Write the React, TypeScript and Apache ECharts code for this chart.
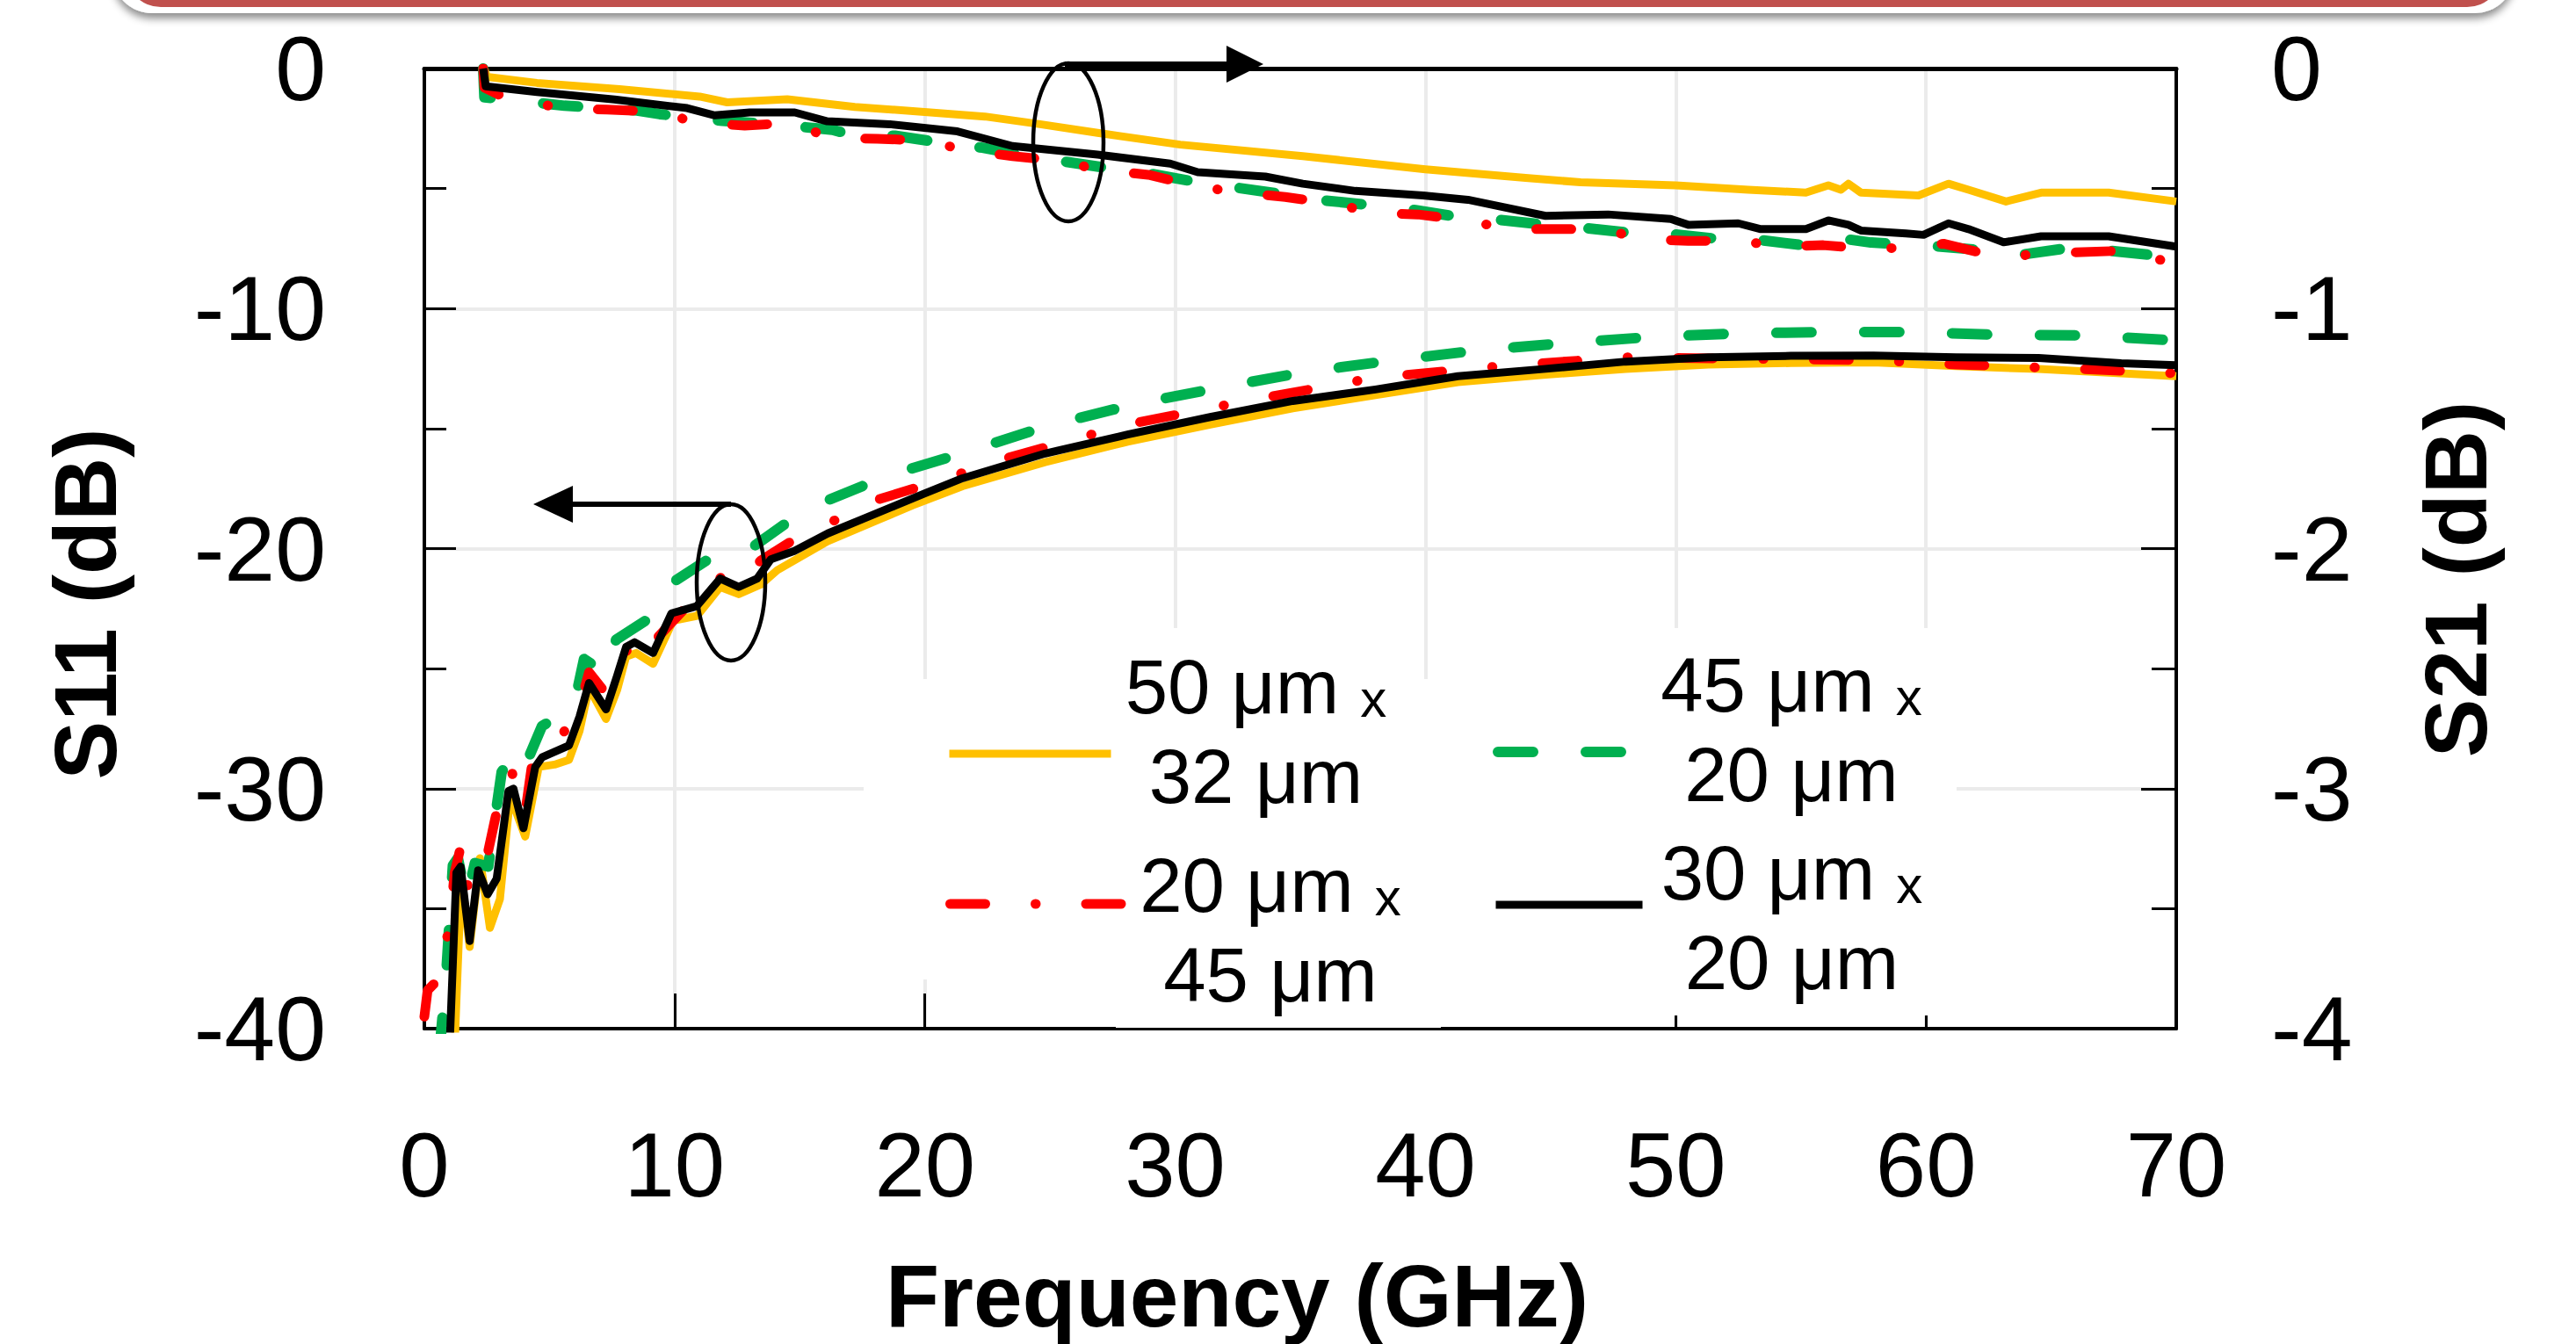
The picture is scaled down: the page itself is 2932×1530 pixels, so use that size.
import React, { useEffect, useRef } from 'react';
import * as echarts from 'echarts';

const FONT = '"Liberation Sans", Arial, Helvetica, sans-serif';

// ---------- categories / labels ----------
const seriesNames = ['50 μm x 32 μm', '45 μm x 20 μm', '20 μm x 45 μm', '30 μm x 20 μm'];
const legendLine1 = ['50 μm ', '45 μm ', '20 μm ', '30 μm '];
const legendLine2 = ['32 μm', '20 μm', '45 μm', '20 μm'];
const seriesColors = ['#FFC000', '#00B050', '#FF0000', '#000000'];

// ---------- S11 (dB) vs frequency (GHz) ----------
const s11_50x32: [number, number][] = [
  [1.2, -41], [1.48, -33.6], [1.81, -36.6], [2.22, -32.9], [2.62, -35.8], [3.02, -34.6], [3.43, -30.3],
  [4.03, -32.0], [4.57, -29.1], [5.2, -29.0], [5.78, -28.8], [6.2, -27.6], [6.58, -25.8], [7.26, -27.1],
  [7.7, -25.9], [8.06, -24.5], [8.46, -24.35], [9.14, -24.8], [9.94, -23.0], [10.9, -22.8], [11.82, -21.6],
  [12.56, -21.9], [13.44, -21.5], [14.1, -20.9], [16.1, -19.7], [18.15, -18.8], [19.5, -18.2], [21.5, -17.4],
  [24.8, -16.4], [28.1, -15.55], [31.4, -14.83], [34.7, -14.16], [38, -13.61], [41.3, -13.07], [44.7, -12.76],
  [48, -12.52], [51.3, -12.33], [54.6, -12.27], [57.9, -12.24], [61.2, -12.4], [64.5, -12.52], [67.8, -12.7],
  [70, -12.82],
];
const s11_45x20: [number, number][] = [
  [0.6, -41], [0.87, -37.8], [1.14, -33.2], [1.34, -32.9], [1.68, -34.6], [2.02, -33.1], [2.55, -33.25],
  [3.09, -29.3], [3.43, -28.8], [3.83, -29.4], [4.17, -28.7], [4.7, -27.4], [5.64, -26.8], [6.05, -26.2],
  [6.38, -24.6], [7.26, -25.2], [7.66, -23.8], [9.14, -22.8], [9.94, -21.4], [11.42, -20.4], [12.9, -20.1],
  [14.38, -19.0], [15.85, -18.1], [17.5, -17.4], [18.15, -17.07], [21.5, -16.03], [24.9, -14.89],
  [28.4, -13.98], [31.7, -13.31], [35.2, -12.64], [38.7, -12.16], [42.2, -11.73], [45.7, -11.43],
  [49.1, -11.18], [52.6, -11.03], [56.1, -10.98], [59.6, -10.98], [63.05, -11.1], [66.5, -11.12], [70, -11.33],
];
const s11_20x45: [number, number][] = [
  [0, -39.5], [0.13, -38.4], [0.51, -38.0], [0.81, -36.8], [1.01, -35.6], [1.21, -33.5], [1.48, -32.3],
  [1.75, -34.2], [2.08, -33.2], [2.49, -32.9], [2.82, -31.3], [3.16, -29.7], [3.49, -29.3], [4.03, -31.0],
  [4.3, -29.0], [5.51, -27.75], [6.2, -26.6], [6.58, -25.15], [7.19, -25.95], [7.46, -25.3], [8.6, -23.4],
  [9.14, -23.9], [10.68, -22.2], [12.09, -21.0], [12.63, -21.3], [13.44, -20.5], [15.05, -19.44],
  [16.8, -18.64], [18.2, -17.93], [20.5, -17.2], [23.1, -16.28], [28.1, -14.83], [33.1, -13.8], [38, -12.88],
  [43, -12.4], [48, -12.03], [52.9, -12.09], [57.9, -12.15], [61.2, -12.33], [66.2, -12.52], [70, -12.7],
];
const s11_30x20: [number, number][] = [
  [1.0, -41], [1.28, -33.5], [1.45, -33.25], [1.81, -36.35], [2.15, -33.4], [2.53, -34.4], [2.89, -33.75],
  [3.36, -30.1], [3.56, -30.0], [3.96, -31.65], [4.43, -29.1], [4.7, -28.7], [5.78, -28.2], [6.2, -27.0],
  [6.58, -25.6], [7.26, -26.7], [7.7, -25.3], [8.06, -24.1], [8.4, -23.9], [9.14, -24.35], [9.87, -22.7],
  [10.88, -22.4], [11.82, -21.25], [12.56, -21.6], [13.3, -21.25], [13.84, -20.45], [14.78, -20.1],
  [16.12, -19.37], [17.47, -18.79], [18.81, -18.21], [20, -17.7], [21.5, -17.07], [24.8, -16.04],
  [28.1, -15.25], [31.4, -14.52], [34.7, -13.85], [38, -13.37], [41.3, -12.82], [44.7, -12.52], [48, -12.21],
  [51.3, -12.03], [54.6, -11.97], [57.9, -11.96], [61.2, -12.03], [64.5, -12.06], [67.8, -12.28], [70, -12.36],
];

// ---------- S21 (dB) vs frequency (GHz) ----------
const s21_50x32: [number, number][] = [
  [2.4, 0], [2.5, -0.035], [4.5, -0.06], [7.8, -0.086], [11, -0.117], [12.1, -0.141], [14.5, -0.128],
  [17.2, -0.16], [20.1, -0.182], [22.4, -0.2], [24.6, -0.232], [26.9, -0.268], [30.2, -0.317], [35.1, -0.365],
  [40, -0.42], [44, -0.456], [46.2, -0.474], [50, -0.487], [52.9, -0.505], [55.2, -0.517], [56.1, -0.487],
  [56.6, -0.505], [56.9, -0.48], [57.4, -0.517], [59.7, -0.529], [60.9, -0.48], [61.7, -0.505], [63.2, -0.554],
  [64.6, -0.517], [67.3, -0.517], [70, -0.554],
];
const s21_45x20: [number, number][] = [
  [2.35, 0], [2.4, -0.12], [3.4, -0.13], [5.6, -0.155], [6.9, -0.163], [8.5, -0.175], [9.4, -0.19],
  [11.9, -0.218], [13.9, -0.232], [16.3, -0.255], [17.2, -0.28], [18.8, -0.28], [20.1, -0.3], [22.3, -0.33],
  [24.1, -0.365], [27, -0.41], [27.6, -0.43], [29.1, -0.44], [30.7, -0.47], [32.7, -0.5], [34.4, -0.525],
  [36, -0.55], [37.9, -0.57], [39.6, -0.59], [41.4, -0.62], [42.9, -0.63], [44.7, -0.65], [46.4, -0.665],
  [48.2, -0.685], [49.9, -0.69], [51.7, -0.71], [53.4, -0.715], [55, -0.735], [56.4, -0.705], [57.8, -0.725],
  [59.4, -0.735], [60.4, -0.74], [62.6, -0.76], [63.5, -0.78], [64.2, -0.77], [65.9, -0.745], [67.4, -0.76],
  [69.3, -0.78], [70, -0.79],
];
const s21_20x45: [number, number][] = [
  [2.35, 0], [2.4, -0.08], [3.0, -0.11], [3.7, -0.13], [5.5, -0.165], [7.3, -0.171], [9.2, -0.18],
  [11, -0.226], [12.8, -0.238], [14.6, -0.226], [16.2, -0.287], [18.1, -0.293], [19.9, -0.299],
  [21.7, -0.341], [23.5, -0.365], [25.3, -0.384], [26.9, -0.42], [29, -0.444], [30.7, -0.487], [32.5, -0.517],
  [34.4, -0.535], [36.1, -0.56], [38.1, -0.602], [39.7, -0.608], [41.6, -0.633], [43.4, -0.669], [45.2, -0.669],
  [47, -0.669], [48.8, -0.711], [50.5, -0.718], [52.5, -0.718], [54.3, -0.742], [55.9, -0.736], [57.3, -0.748],
  [59.1, -0.748], [60.7, -0.73], [62.3, -0.77], [63.2, -0.785], [64.2, -0.775], [65.9, -0.766], [67.6, -0.76],
  [69.3, -0.797], [70, -0.8],
];
const s21_30x20: [number, number][] = [
  [2.35, 0], [2.45, -0.074], [4.5, -0.098], [7.6, -0.129], [10.5, -0.165], [11.6, -0.195], [13, -0.183],
  [14.8, -0.183], [16.1, -0.22], [18.6, -0.232], [21.3, -0.262], [23.5, -0.323], [26.9, -0.359],
  [29.8, -0.396], [30.9, -0.432], [33.6, -0.45], [35.1, -0.48], [37.2, -0.51], [39.9, -0.529], [41.7, -0.547],
  [44.8, -0.614], [47.3, -0.608], [49.8, -0.627], [50.5, -0.651], [52.5, -0.645], [53.4, -0.669],
  [55.2, -0.669], [56.1, -0.633], [56.9, -0.651], [57.4, -0.675], [59.2, -0.687], [59.9, -0.693],
  [60.9, -0.645], [61.7, -0.669], [63.1, -0.724], [64.6, -0.699], [67.3, -0.699], [70, -0.742],
];

const s11Data = [s11_50x32, s11_45x20, s11_20x45, s11_30x20];
const s21Data = [s21_50x32, s21_45x20, s21_20x45, s21_30x20];

// ---------- styles (not data) ----------
const lineStyles: any[] = [
  { width: 9, type: 'solid', join: 'round' },
  { width: 12, type: [40, 60], cap: 'round', join: 'round' },
  { width: 11, type: [40, 57, 0.5, 57], cap: 'round', join: 'round' },
  { width: 9, type: 'solid', join: 'round' },
];
const legendLayout = [
  { left: 1076, top: 723, itemWidth: 184, textW: 320, pad: [0, 0, 66, 0] },
  { left: 1699, top: 721, itemWidth: 155, textW: 348, pad: [0, 0, 66, 0] },
  { left: 1076, top: 905, itemWidth: 195, textW: 329, pad: [44, 0, 0, 0] },
  { left: 1698, top: 921, itemWidth: 167, textW: 330, pad: [14, 0, 0, 0] },
];

const tickColor = '#000';
const gridColor = '#EBEBEB';

function buildOption(): any {
  const series: any[] = [];
  for (let i = 0; i < 4; i++) {
    series.push({
      type: 'line', name: seriesNames[i], xAxisIndex: 0, yAxisIndex: 0, data: s11Data[i],
      symbol: 'none', showSymbol: false, color: seriesColors[i],
      lineStyle: { ...lineStyles[i], color: seriesColors[i] }, z: 2,
    });
    series.push({
      type: 'line', name: seriesNames[i], xAxisIndex: 0, yAxisIndex: 1, data: s21Data[i],
      symbol: 'none', showSymbol: false, color: seriesColors[i],
      lineStyle: { ...lineStyles[i], color: seriesColors[i] }, z: 2,
    });
  }

  const rich = {
    a: { fontSize: 87, fontFamily: FONT, color: '#000', lineHeight: 102, align: 'center', verticalAlign: 'bottom' },
    x: { fontSize: 60, fontFamily: FONT, color: '#000', lineHeight: 100, align: 'center', verticalAlign: 'bottom' },
  };

  const legend = legendLayout.map((L, i) => ({
    data: [seriesNames[i]],
    left: L.left, top: L.top, padding: 0, itemGap: 0,
    itemWidth: L.itemWidth, itemHeight: 14,
    selectedMode: false,
    orient: 'horizontal',
    lineStyle: { width: lineStyles[i].width },
    itemStyle: { opacity: 0 },
    formatter: () => `{a|${legendLine1[i]}}{x|x}\n{a|${legendLine2[i]}}`,
    textStyle: {
      width: L.textW, padding: L.pad, fontSize: 87, lineHeight: 102, fontFamily: FONT, color: '#000', rich,
    },
  }));

  const whiteBox = (x: number, y: number, w: number, h: number) => ({
    type: 'rect', z: 1, silent: true, shape: { x, y, width: w, height: h }, style: { fill: '#fff' },
  });

  return {
    animation: false,
    backgroundColor: '#fff',
    textStyle: { fontFamily: FONT },
    grid: { left: 483, right: 455, top: 78, bottom: 354, containLabel: false },
    legend,
    xAxis: [
      {
        type: 'value', position: 'bottom', min: 0, max: 70, interval: 10,
        axisLine: { show: true, onZero: false, lineStyle: { color: '#000', width: 4 } },
        axisTick: { show: true, inside: true, length: 40, lineStyle: { color: tickColor, width: 3 } },
        splitLine: { show: true, lineStyle: { color: gridColor, width: 4 } },
        axisLabel: { fontSize: 103, color: '#000', fontFamily: FONT, margin: 104 },
        name: 'Frequency (GHz)', nameLocation: 'middle', nameGap: 254,
        nameTextStyle: { fontSize: 100, fontWeight: 'bold', color: '#000', fontFamily: FONT, padding: [0, 144, 0, 0] },
      },
      {
        type: 'value', position: 'top', min: 0, max: 70, interval: 10,
        axisLine: { show: true, onZero: false, lineStyle: { color: '#000', width: 5 } },
        axisTick: { show: false }, axisLabel: { show: false }, splitLine: { show: false },
      },
    ],
    yAxis: [
      {
        type: 'value', position: 'left', min: -40, max: 0, interval: 10,
        axisLine: { show: true, onZero: false, lineStyle: { color: '#000', width: 4 } },
        axisTick: { show: true, inside: true, length: 36, lineStyle: { color: tickColor, width: 3 } },
        minorTick: { show: true, splitNumber: 2, length: 25, lineStyle: { color: tickColor, width: 3 } },
        splitLine: { show: true, lineStyle: { color: gridColor, width: 4 } },
        axisLabel: { fontSize: 104, color: '#000', fontFamily: FONT, margin: 112 },
        name: 'S11 (dB)', nameLocation: 'middle', nameGap: 336,
        nameTextStyle: { fontSize: 100, fontWeight: 'bold', color: '#000', fontFamily: FONT, padding: [0, 126, 0, 0] },
      },
      {
        type: 'value', position: 'right', min: -4, max: 0, interval: 1,
        axisLine: { show: true, onZero: false, lineStyle: { color: '#000', width: 4 } },
        axisTick: { show: true, inside: true, length: 40, lineStyle: { color: tickColor, width: 3 } },
        minorTick: { show: true, splitNumber: 2, length: 28, lineStyle: { color: tickColor, width: 3 } },
        splitLine: { show: false },
        axisLabel: { fontSize: 104, color: '#000', fontFamily: FONT, margin: 108 },
        name: 'S21 (dB)', nameLocation: 'middle', nameGap: 268,
        nameTextStyle: { fontSize: 100, fontWeight: 'bold', color: '#000', fontFamily: FONT, padding: [0, 70, 0, 0] },
      },
    ],
    graphic: [
      // top banner
      {
        type: 'rect', z: 10, silent: true,
        shape: { x: 128, y: -100, width: 2734, height: 115, r: 45 },
        style: { fill: '#fff', shadowBlur: 10, shadowOffsetY: 6, shadowColor: 'rgba(0,0,0,0.45)' },
      },
      {
        type: 'rect', z: 11, silent: true,
        shape: { x: 143, y: -100, width: 2705, height: 108, r: 40 },
        style: { fill: '#C0504D' },
      },
      // white area behind legend texts
      whiteBox(983, 773, 1244, 342),
      whiteBox(1270, 715, 330, 60),
      whiteBox(1860, 715, 367, 60),
      whiteBox(1270, 1113, 370, 57),
      whiteBox(1860, 1113, 367, 43),
      // annotations: S21 group
      {
        type: 'ellipse', z: 6, silent: true,
        shape: { cx: 1216, cy: 162, rx: 40, ry: 90 },
        style: { fill: 'none', stroke: '#000', lineWidth: 4.5 },
      },
      {
        type: 'line', z: 6, silent: true,
        shape: { x1: 1212, y1: 73, x2: 1400, y2: 73 },
        style: { stroke: '#000', lineWidth: 6 },
      },
      {
        type: 'polygon', z: 6, silent: true,
        shape: { points: [[1396, 52], [1438, 73], [1396, 94]] },
        style: { fill: '#000' },
      },
      // annotations: S11 group
      {
        type: 'ellipse', z: 6, silent: true,
        shape: { cx: 832, cy: 663, rx: 39, ry: 89 },
        style: { fill: 'none', stroke: '#000', lineWidth: 4.5 },
      },
      {
        type: 'line', z: 6, silent: true,
        shape: { x1: 832, y1: 574, x2: 648, y2: 574 },
        style: { stroke: '#000', lineWidth: 6 },
      },
      {
        type: 'polygon', z: 6, silent: true,
        shape: { points: [[652, 553], [607, 574], [652, 595]] },
        style: { fill: '#000' },
      },
    ],
    series,
  };
}

export default function App() {
  const ref = useRef<HTMLDivElement | null>(null);
  useEffect(() => {
    if (!ref.current) return;
    const chart = echarts.init(ref.current, undefined, { renderer: 'svg' });
    chart.setOption(buildOption());
    return () => chart.dispose();
  }, []);
  return (
    <div
      ref={ref}
      style={{ position: 'absolute', left: 0, top: 0, width: 2932, height: 1530, background: '#fff' }}
    />
  );
}
